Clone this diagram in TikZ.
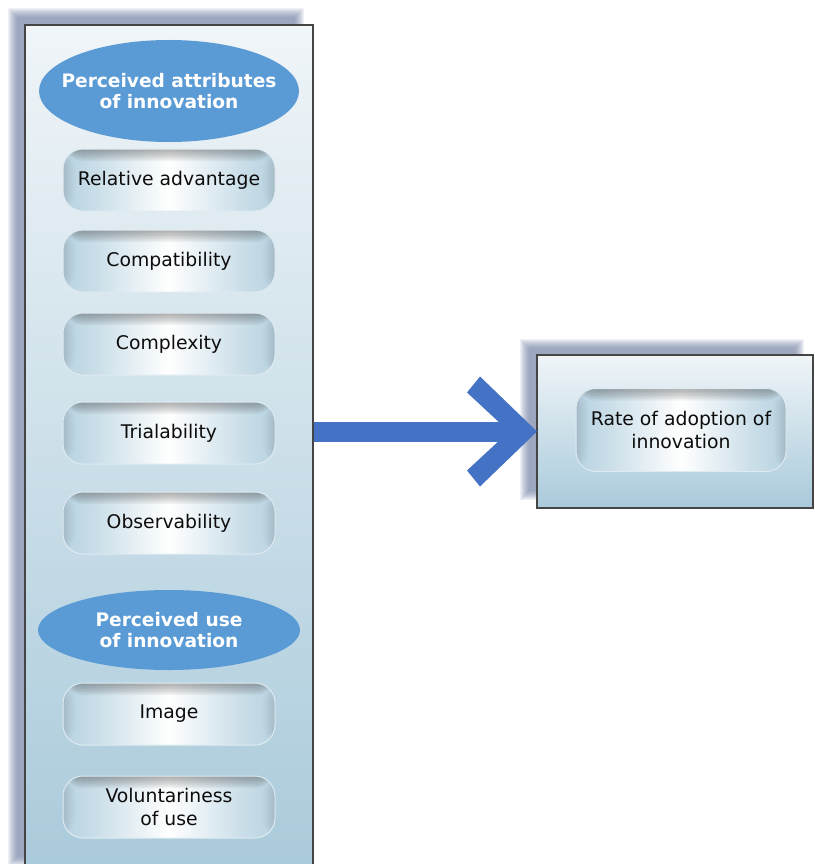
\documentclass[tikz,border=0pt]{standalone}
\usepackage{fontspec}
\setmainfont{DejaVu Sans}
\usetikzlibrary{shapes.geometric,calc}

\definecolor{ovalblue}{HTML}{5B9BD5}
\definecolor{arrowblue}{HTML}{4472C4}
\definecolor{boxblue}{HTML}{A3C6D8}
\definecolor{paneltop}{HTML}{F0F5F8}
\definecolor{panelbot}{HTML}{A9CADB}
\definecolor{shadowc}{HTML}{6B7AA0}
\definecolor{framec}{HTML}{454545}

% glossy fill of the rounded boxes: a pale column down the middle
\pgfdeclarehorizontalshading{boxglow}{100bp}{%
  color(0bp)=(boxblue); color(16bp)=(boxblue); color(32bp)=(boxblue!60!white);
  color(50bp)=(white); color(68bp)=(boxblue!60!white); color(84bp)=(boxblue);
  color(100bp)=(boxblue)}

\pgfdeclarelayer{bg}
\pgfsetlayers{bg,main}

\tikzset{
  panel/.style={draw=framec, line width=1.1pt, top color=paneltop, bottom color=panelbot,
    inner sep=0pt, outer sep=0pt},
  attrbox/.style={rounded corners=20pt, minimum width=212pt, minimum height=62pt,
    shade, shading=boxglow, draw=white!65!boxblue, line width=1pt,
    text=black!95, font=\fontsize{18.8}{22.5}\selectfont, align=center,
    inner sep=0pt, outer sep=0pt,
    path picture={
      \foreach \h in {1.5,3,...,12}
        \fill[black!75, opacity=.06] (path picture bounding box.north west)
          rectangle ([yshift=-\h pt]path picture bounding box.north east);
      \foreach \w in {2,4,...,12} {
        \fill[black!60, opacity=.03] (path picture bounding box.north west)
          rectangle ([xshift=\w pt]path picture bounding box.south west);
        \fill[black!60, opacity=.03] (path picture bounding box.north east)
          rectangle ([xshift=-\w pt]path picture bounding box.south east);
      }}},
  oval/.style={ellipse, fill=ovalblue, draw=none, inner sep=0pt, outer sep=0pt},
  ovaltext/.style={text=white, font=\bfseries\fontsize{18.6}{21.5}\selectfont, align=center},
  softshadow/.style={fill=shadowc, opacity=0.1},
}

\begin{document}
\begin{tikzpicture}[x=1pt,y=-1pt]
\useasboundingbox (0,0) rectangle (814,864);
\clip (0,0) rectangle (814,864);

% frames
\node[panel, minimum width=288pt, minimum height=850pt, anchor=north west] (attrs) at (25,25) {};
\node[panel, minimum width=276pt, minimum height=153pt, anchor=north west] (rate) at (537,355) {};

% soft shadows behind the frames
\begin{pgfonlayer}{bg}
\foreach \k in {0,...,9} {
  \fill[softshadow] ([shift={(-17+\k,-17+\k)}]attrs.north west) rectangle ([shift={(-17-\k+8,-17-\k+8)}]attrs.south east);
  \fill[softshadow] ([shift={(-17+\k,-16+\k)}]rate.north west) rectangle ([shift={(-17-\k+8,-16-\k+8)}]rate.south east);
}
\end{pgfonlayer}

% perceived attributes
\node[oval, minimum width=260pt, minimum height=102pt,
  label={[ovaltext]center:{Perceived attributes\\of innovation}}] (pai) at (169,91) {};
\node[attrbox] (rel)   at (169,180) {Relative advantage};
\node[attrbox] (comp)  at (169,261) {Compatibility};
\node[attrbox] (cplx)  at (169,344) {Complexity};
\node[attrbox] (trial) at (169,433) {Trialability};
\node[attrbox] (obs)   at (169,523) {Observability};

% perceived use
\node[oval, minimum width=262pt, minimum height=80pt,
  label={[ovaltext]center:{Perceived use\\of innovation}}] (pui) at (169,630) {};
\node[attrbox] (img) at (169,714) {Image};
\node[attrbox] (vol) at (169,807) {Voluntariness\\of use};

% outcome
\node[attrbox, minimum width=210pt, minimum height=83pt] (rateinner) at (681,430)
  {Rate of adoption of\\innovation};

% connector: shaft plus open chevron head
\draw[arrowblue, line width=20pt] ([xshift=0.6pt]attrs.east |- rate.west) -- ([xshift=-24pt]rate.west);
\fill[arrowblue] (rate.west) -- ([shift={(-57,-55)}]rate.west) -- ([shift={(-70,-39)}]rate.west)
  -- ([shift={(-28,0)}]rate.west) -- ([shift={(-70,39)}]rate.west)
  -- ([shift={(-57,55)}]rate.west) -- cycle;
\end{tikzpicture}
\end{document}
